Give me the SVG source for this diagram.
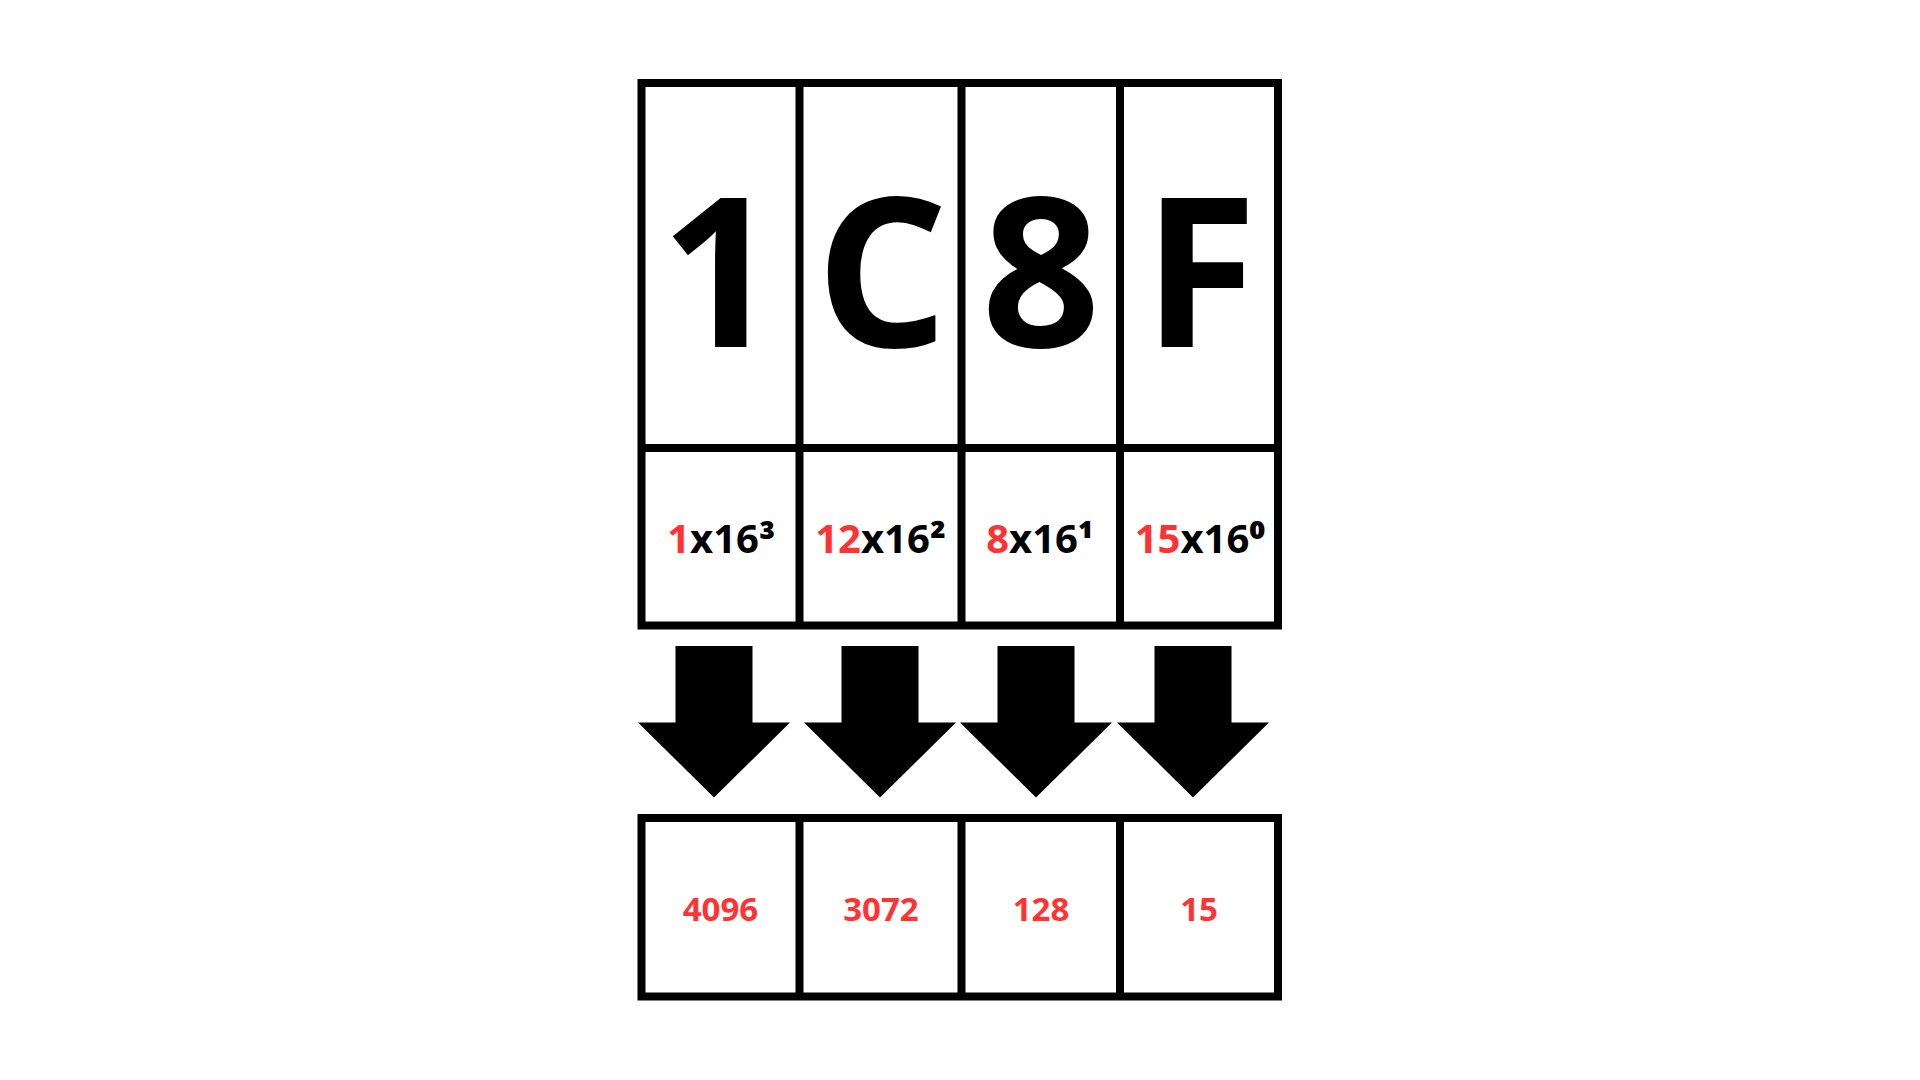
<svg xmlns="http://www.w3.org/2000/svg" width="1920" height="1080" viewBox="0 0 1920 1080">
<style>
.box{fill:none;stroke:#000;stroke-width:8}
.ln{stroke:#000;stroke-width:8}
.big{font-family:"Open Sans","Liberation Sans",sans-serif;font-weight:700;font-size:208px;fill:#000;text-anchor:middle}
.mid{font-family:"Open Sans","Liberation Sans",sans-serif;font-weight:700;font-size:40px;fill:#000;text-anchor:middle}
.sup{font-weight:800}
.val{font-family:"Open Sans","Liberation Sans",sans-serif;font-weight:700;font-size:33px;fill:#ff3333;text-anchor:middle}
.red{fill:#ff3333}
.arrow{fill:#000}
</style>
<rect width="1920" height="1080" fill="#fff"/>
<g id="top-table">
<rect class="box" x="641.5" y="83" width="636.5" height="542.5"/>
<line class="ln" x1="641.5" y1="448" x2="1278" y2="448"/>
<line class="ln" x1="799.5" y1="83" x2="799.5" y2="625.5"/>
<line class="ln" x1="961.5" y1="83" x2="961.5" y2="625.5"/>
<line class="ln" x1="1120" y1="83" x2="1120" y2="625.5"/>
</g>
<g id="digit-1"><text class="big" x="720" y="346.7">1</text><text class="mid" x="721" y="553.3"><tspan class="red">1</tspan>x16<tspan class="sup" dy="2">³</tspan></text></g>
<g id="digit-C"><text class="big" x="882" y="346.7">C</text><text class="mid" x="880.5" y="553.3"><tspan class="red">12</tspan>x16<tspan class="sup" dy="2">²</tspan></text></g>
<g id="digit-8"><text class="big" x="1041" y="346.7">8</text><text class="mid" x="1040" y="553.3"><tspan class="red">8</tspan>x16<tspan class="sup" dy="2">¹</tspan></text></g>
<g id="digit-F"><text class="big" x="1200" y="346.7">F</text><text class="mid" x="1200" y="553.3"><tspan class="red">15</tspan>x16<tspan class="sup" dy="2">⁰</tspan></text></g>
<g id="connectors">
<path class="arrow" d="M675.5 646H752.5V722.5H790L714 797.5L638 722.5H675.5Z"/>
<path class="arrow" d="M841.5 646H918.5V722.5H956L880 797.5L804 722.5H841.5Z"/>
<path class="arrow" d="M997.5 646H1074.5V722.5H1112L1036 797.5L960 722.5H997.5Z"/>
<path class="arrow" d="M1154.5 646H1231.5V722.5H1269L1193 797.5L1117 722.5H1154.5Z"/>
</g>
<g id="bottom-table">
<rect class="box" x="641.5" y="818" width="636.5" height="178.5"/>
<line class="ln" x1="799.5" y1="818" x2="799.5" y2="996.5"/>
<line class="ln" x1="961.5" y1="818" x2="961.5" y2="996.5"/>
<line class="ln" x1="1120" y1="818" x2="1120" y2="996.5"/>
</g>
<g id="value-4096"><text class="val" x="720.5" y="920.7">4096</text></g>
<g id="value-3072"><text class="val" x="881" y="920.7">3072</text></g>
<g id="value-128"><text class="val" x="1041" y="920.7">128</text></g>
<g id="value-15"><text class="val" x="1199" y="920.7">15</text></g>
</svg>
